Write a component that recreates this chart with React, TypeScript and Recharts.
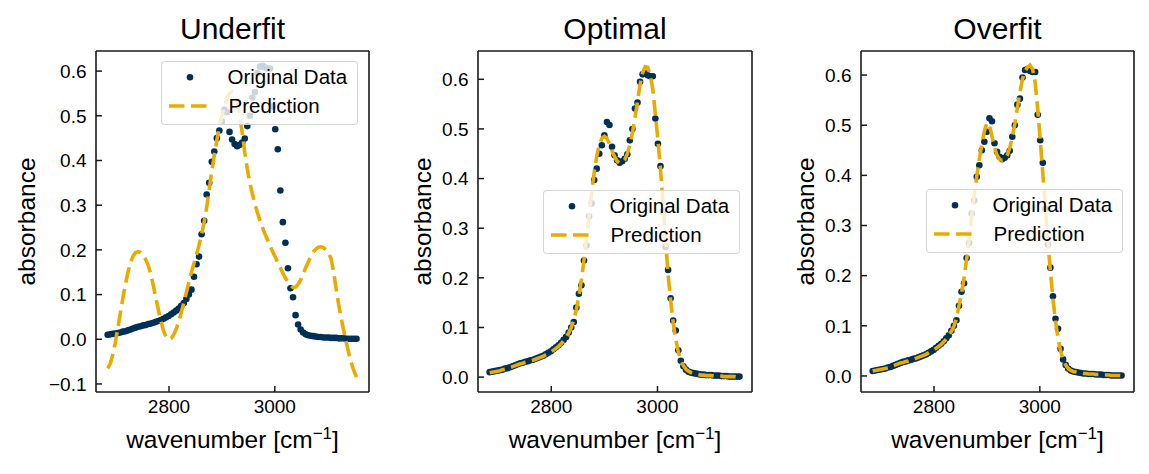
import { ComposedChart, Scatter, Line, XAxis, YAxis, Legend } from "recharts";

const FONT = '"Liberation Sans", Arial, Helvetica, sans-serif';
const NAVY = "#003057";
const GOLD = "#EAAA00";
const INK = "#1a1a1a";

// measured spectrum, cm^-1
const wavenumber = [
  2684.0, 2688.8, 2693.6, 2698.4, 2703.2, 2708.0, 2712.8, 2717.6, 2722.4, 2727.2,
  2732.0, 2736.8, 2741.6, 2746.4, 2751.2, 2756.0, 2760.8, 2765.6, 2770.4, 2775.2,
  2780.0, 2784.8, 2789.6, 2794.4, 2799.2, 2804.0, 2808.8, 2813.6, 2818.4, 2823.2,
  2828.0, 2832.8, 2837.6, 2842.4, 2847.2, 2852.0, 2856.8, 2861.6, 2866.4, 2871.2,
  2876.0, 2880.8, 2885.6, 2890.4, 2895.2, 2900.0, 2904.8, 2909.6, 2914.4, 2919.2,
  2924.0, 2928.8, 2933.6, 2938.4, 2943.2, 2948.0, 2952.8, 2957.6, 2962.4, 2967.2,
  2972.0, 2976.8, 2981.6, 2986.4, 2991.2, 2996.0, 3000.8, 3005.6, 3010.4, 3015.2,
  3020.0, 3024.8, 3029.6, 3034.4, 3039.2, 3044.0, 3048.8, 3053.6, 3058.4, 3063.2,
  3068.0, 3072.8, 3077.6, 3082.4, 3087.2, 3092.0, 3096.8, 3101.6, 3106.4, 3111.2,
  3116.0, 3120.8, 3125.6, 3130.4, 3135.2, 3140.0, 3144.8, 3149.6, 3154.4,
];

const absorbance = [
  0.010, 0.011, 0.012, 0.013, 0.014, 0.015, 0.017, 0.018, 0.020, 0.022,
  0.024, 0.026, 0.028, 0.029, 0.031, 0.032, 0.034, 0.035, 0.037, 0.039,
  0.041, 0.043, 0.046, 0.049, 0.052, 0.056, 0.060, 0.064, 0.069, 0.075,
  0.081, 0.090, 0.100, 0.111, 0.140, 0.168, 0.185, 0.235, 0.265, 0.324,
  0.350, 0.397, 0.420, 0.450, 0.467, 0.487, 0.514, 0.508, 0.464, 0.447,
  0.437, 0.432, 0.435, 0.440, 0.449, 0.477, 0.500, 0.541, 0.553, 0.595,
  0.610, 0.612, 0.608, 0.606, 0.606, 0.521, 0.470, 0.425, 0.333, 0.262,
  0.216, 0.159, 0.114, 0.094, 0.054, 0.033, 0.022, 0.015, 0.011, 0.009,
  0.008, 0.007, 0.006, 0.005, 0.005, 0.004, 0.004, 0.004, 0.003, 0.003,
  0.003, 0.002, 0.002, 0.002, 0.001, 0.001, 0.001, 0.001, 0.001,
];

const underfitPrediction = [
  -0.065, -0.055, -0.035, -0.008, 0.025, 0.058, 0.092, 0.123, 0.150, 0.172,
  0.186, 0.194, 0.196, 0.194, 0.188, 0.178, 0.165, 0.145, 0.120, 0.092,
  0.065, 0.040, 0.019, 0.005, 0.000, 0.002, 0.010, 0.023, 0.040, 0.060,
  0.082, 0.105, 0.128, 0.150, 0.170, 0.190, 0.210, 0.235, 0.262, 0.295,
  0.335, 0.375, 0.412, 0.445, 0.475, 0.500, 0.522, 0.540, 0.551, 0.554,
  0.549, 0.530, 0.500, 0.462, 0.418, 0.381, 0.350, 0.325, 0.303, 0.283,
  0.265, 0.249, 0.235, 0.222, 0.209, 0.196, 0.184, 0.172, 0.160, 0.148,
  0.137, 0.128, 0.120, 0.116, 0.117, 0.123, 0.133, 0.146, 0.160, 0.173,
  0.185, 0.195, 0.202, 0.206, 0.207, 0.205, 0.200, 0.193, 0.180, 0.150,
  0.112, 0.077, 0.046, 0.018, -0.008, -0.032, -0.054, -0.071, -0.085,
];

const optimalPrediction = [
  0.009, 0.010, 0.011, 0.012, 0.013, 0.015, 0.016, 0.018, 0.019, 0.021,
  0.023, 0.025, 0.027, 0.028, 0.030, 0.031, 0.033, 0.034, 0.036, 0.038,
  0.040, 0.042, 0.045, 0.048, 0.051, 0.054, 0.058, 0.062, 0.067, 0.073,
  0.080, 0.089, 0.100, 0.115, 0.136, 0.163, 0.196, 0.236, 0.280, 0.326,
  0.372, 0.412, 0.445, 0.468, 0.481, 0.485, 0.481, 0.470, 0.456, 0.444,
  0.435, 0.431, 0.432, 0.438, 0.450, 0.468, 0.492, 0.522, 0.556, 0.589,
  0.613, 0.625, 0.624, 0.608, 0.580, 0.530, 0.478, 0.420, 0.350, 0.275,
  0.207, 0.154, 0.110, 0.076, 0.051, 0.034, 0.023, 0.016, 0.012, 0.009,
  0.007, 0.006, 0.005, 0.004, 0.004, 0.003, 0.003, 0.003, 0.002, 0.002,
  0.002, 0.002, 0.001, 0.001, 0.001, 0.001, 0.001, 0.000, 0.000,
];

const overfitPrediction = [
  0.010, 0.011, 0.012, 0.013, 0.014, 0.015, 0.016, 0.018, 0.020, 0.022,
  0.024, 0.026, 0.027, 0.029, 0.030, 0.032, 0.033, 0.035, 0.037, 0.039,
  0.041, 0.043, 0.046, 0.049, 0.052, 0.055, 0.059, 0.063, 0.068, 0.074,
  0.081, 0.089, 0.099, 0.115, 0.140, 0.165, 0.195, 0.232, 0.272, 0.318,
  0.360, 0.398, 0.432, 0.462, 0.488, 0.505, 0.500, 0.478, 0.455, 0.440,
  0.432, 0.430, 0.433, 0.440, 0.455, 0.476, 0.503, 0.535, 0.566, 0.592,
  0.608, 0.616, 0.620, 0.612, 0.585, 0.532, 0.470, 0.405, 0.338, 0.270,
  0.208, 0.154, 0.110, 0.075, 0.050, 0.033, 0.022, 0.015, 0.011, 0.009,
  0.008, 0.007, 0.006, 0.005, 0.005, 0.004, 0.004, 0.004, 0.003, 0.003,
  0.003, 0.002, 0.002, 0.002, 0.001, 0.001, 0.001, 0.001, 0.001,
];

const xTicks = [2800, 3000];
const yTicksUnderfit = [-0.1, 0, 0.1, 0.2, 0.3, 0.4, 0.5, 0.6];
const yTicks = [0, 0.1, 0.2, 0.3, 0.4, 0.5, 0.6];

// layout
const HEIGHT = 474;
const AXIS_W = 96;
const PLOT_TOP = 51;
const XAXIS_H = 82;
const RIGHT = 10;
const PLOT_H = HEIGHT - PLOT_TOP - XAXIS_H;
const X_DOMAIN = [2662, 3178];

const panels = [
  { title: "Underfit", prediction: underfitPrediction, left: 0, plotWidth: 273, yDomain: [-0.118, 0.645], ticks: yTicksUnderfit, ylabelGap: 61, legendTop: 61 },
  { title: "Optimal", prediction: optimalPrediction, left: 382, plotWidth: 274, yDomain: [-0.030, 0.657], ticks: yTicks, ylabelGap: 47.5, legendTop: 189.5 },
  { title: "Overfit", prediction: overfitPrediction, left: 765, plotWidth: 273, yDomain: [-0.032, 0.648], ticks: yTicks, ylabelGap: 47.5, legendTop: 189 },
];

const spine = { stroke: INK, strokeWidth: 1.6 };
const tickStyle = { fill: "#000", fontSize: 19, fontFamily: FONT };

const fmtY = (v: number) => (v < 0 ? "\u2212" + Math.abs(v).toFixed(1) : v.toFixed(1));

const renderDot = (p: any) => <circle cx={p.cx} cy={p.cy} r={3.3} fill={NAVY} />;

function LegendBox() {
  return (
    <div
      style={{
        width: 197,
        height: 64,
        boxSizing: "border-box",
        background: "rgba(255,255,255,0.8)",
        border: "1px solid rgba(204,204,204,0.8)",
        borderRadius: 4,
        position: "relative",
      }}
    >
      <svg width={197} height={64} style={{ position: "absolute", left: -1, top: -1 }}>
        <circle cx={29} cy={16.3} r={3.3} fill={NAVY} />
        <line x1={8} x2={47} y1={45} y2={45} stroke={GOLD} strokeWidth={3.6} strokeDasharray="15.5 6.5" />
        <text x={66.5} y={22.5} fontSize={20.5} fontFamily={FONT} fill="#000">Original Data</text>
        <text x={67.5} y={52} fontSize={20.5} fontFamily={FONT} fill="#000">Prediction</text>
      </svg>
    </div>
  );
}

function Panel({ cfg }: { cfg: (typeof panels)[number] }) {
  const rows = wavenumber.map((w, i) => ({ w, obs: absorbance[i], pred: cfg.prediction[i] }));
  const width = AXIS_W + cfg.plotWidth + RIGHT;
  const cx = AXIS_W + cfg.plotWidth / 2;
  const ylx = AXIS_W - cfg.ylabelGap;
  const yly = PLOT_TOP + PLOT_H / 2;

  return (
    <div style={{ position: "absolute", left: cfg.left, top: 0 }}>
      <ComposedChart width={width} height={HEIGHT} data={rows} margin={{ top: PLOT_TOP - 1, right: RIGHT - 1, bottom: 0, left: 0 }}>
        <XAxis
          xAxisId="top"
          orientation="top"
          type="number"
          dataKey="w"
          domain={X_DOMAIN}
          ticks={xTicks}
          tick={false}
          tickLine={false}
          height={1}
          axisLine={spine}
          label={() => (
            <text x={cx} y={38.5} textAnchor="middle" fontSize={30} fontFamily={FONT} fill="#000">
              {cfg.title}
            </text>
          )}
        />
        <YAxis
          yAxisId="right"
          orientation="right"
          type="number"
          domain={cfg.yDomain}
          ticks={cfg.ticks}
          tick={false}
          tickLine={false}
          width={1}
          axisLine={spine}
        />
        <XAxis
          dataKey="w"
          type="number"
          domain={X_DOMAIN}
          ticks={xTicks}
          interval={0}
          height={XAXIS_H}
          tickSize={-6}
          tickMargin={14}
          tick={tickStyle}
          tickLine={{ stroke: INK, strokeWidth: 1.5 }}
          axisLine={spine}
          label={() => (
            <text x={cx} y={448} textAnchor="middle" fontSize={24.5} fontFamily={FONT} fill="#000">
              wavenumber [cm
              <tspan dy={-9} fontSize={17}>{"\u22121"}</tspan>
              <tspan dy={9}>]</tspan>
            </text>
          )}
        />
        <YAxis
          type="number"
          domain={cfg.yDomain}
          ticks={cfg.ticks}
          interval={0}
          width={AXIS_W}
          tickSize={-6}
          tickMargin={15.5}
          tick={tickStyle}
          tickFormatter={fmtY}
          tickLine={{ stroke: INK, strokeWidth: 1.5 }}
          axisLine={spine}
          label={() => (
            <text
              x={ylx}
              y={yly}
              transform={`rotate(-90 ${ylx} ${yly})`}
              textAnchor="middle"
              fontSize={24.5}
              fontFamily={FONT}
              fill="#000"
            >
              absorbance
            </text>
          )}
        />
        <Scatter name="Original Data" dataKey="obs" fill={NAVY} shape={renderDot} isAnimationActive={false} />
        <Line
          name="Prediction"
          dataKey="pred"
          type="linear"
          stroke={GOLD}
          strokeWidth={3.6}
          strokeDasharray="15.5 6.5"
          dot={false}
          activeDot={false}
          zIndex={700}
          isAnimationActive={false}
        />
        <Legend
          layout="horizontal"
          verticalAlign="middle"
          align="center"
          wrapperStyle={{ left: 161, top: cfg.legendTop, width: 197, height: 64 }}
          content={() => <LegendBox />}
        />
      </ComposedChart>
    </div>
  );
}

export default function App() {
  return (
    <div style={{ position: "absolute", left: 0, top: 0, width: 1149, height: HEIGHT, background: "#fff", fontFamily: FONT }}>
      {panels.map((p) => (
        <Panel key={p.title} cfg={p} />
      ))}
    </div>
  );
}
